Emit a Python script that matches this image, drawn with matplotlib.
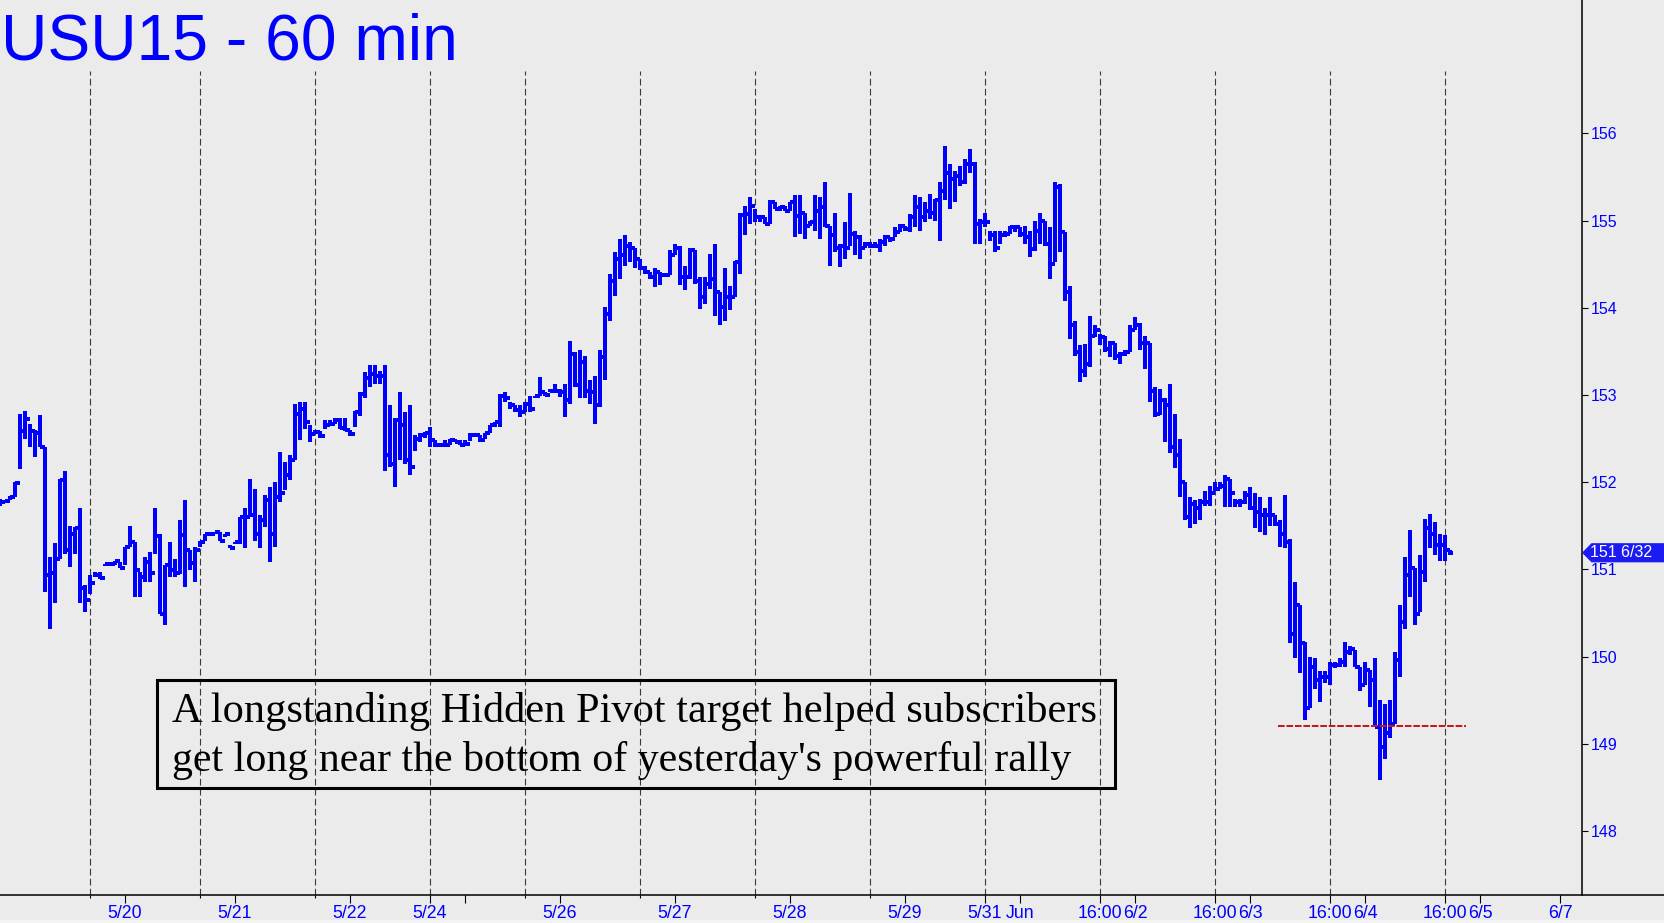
import matplotlib
matplotlib.use("Agg")
import matplotlib.pyplot as plt
from matplotlib import font_manager
from matplotlib.collections import LineCollection
from matplotlib.patches import Rectangle, Polygon
from matplotlib.lines import Line2D

W, H, DPI = 1664, 923, 100

# 60 min bars (one entry per bar)
highs = [151.81, 151.79, 151.84, 152.00, 152.78, 152.82, 152.67, 152.60, 152.77, 152.40,
         151.14, 151.30, 152.04, 152.13, 151.50, 151.48, 151.70, 150.82, 150.93, 150.97,
         150.97, 151.06, 151.06, 151.09, 151.08, 151.26, 151.50, 151.31, 150.97, 151.14,
         151.20, 151.70, 151.41, 151.05, 151.31, 151.12, 151.57, 151.79, 151.22, 151.26,
         151.33, 151.40, 151.40, 151.43, 151.43, 151.40, 151.28, 151.31, 151.60, 151.70,
         152.04, 151.92, 151.62, 151.85, 151.94, 152.00, 152.35, 152.23, 152.31, 152.90,
         152.92, 152.92, 152.65, 152.60, 152.59, 152.71, 152.71, 152.73, 152.73, 152.73,
         152.60, 152.82, 153.03, 153.26, 153.34, 153.34, 153.28, 153.34, 152.88, 152.73,
         153.03, 152.80, 152.88, 152.54, 152.56, 152.57, 152.63, 152.48, 152.45, 152.48,
         152.50, 152.50, 152.48, 152.48, 152.56, 152.56, 152.54, 152.56, 152.65, 152.69,
         153.01, 153.03, 152.92, 152.88, 152.88, 152.92, 152.99, 152.99, 153.20, 153.03,
         153.07, 153.12, 153.07, 153.13, 153.62, 153.49, 153.51, 153.45, 153.17, 153.22,
         153.51, 154.01, 154.39, 154.64, 154.79, 154.83, 154.75, 154.69, 154.56, 154.48,
         154.41, 154.46, 154.41, 154.40, 154.66, 154.73, 154.71, 154.48, 154.69, 154.66,
         154.35, 154.35, 154.62, 154.73, 154.18, 154.45, 154.25, 154.54, 155.09, 155.17,
         155.27, 155.13, 155.06, 155.04, 155.23, 155.21, 155.17, 155.17, 155.21, 155.29,
         155.29, 155.09, 155.00, 155.29, 155.27, 155.44, 154.94, 155.09, 154.73, 154.98,
         155.32, 154.88, 154.83, 154.75, 154.75, 154.75, 154.79, 154.83, 154.81, 154.92,
         154.96, 154.94, 155.08, 155.29, 155.27, 155.21, 155.30, 155.25, 155.44, 155.86,
         155.65, 155.57, 155.63, 155.71, 155.82, 155.67, 155.02, 155.09, 154.88, 154.88,
         154.88, 154.88, 154.94, 154.94, 154.92, 154.94, 154.88, 155.00, 155.09, 155.00,
         154.92, 155.44, 155.42, 154.87, 154.25, 153.85, 153.57, 153.58, 153.91, 153.80,
         153.70, 153.68, 153.62, 153.59, 153.49, 153.52, 153.80, 153.89, 153.83, 153.68,
         153.59, 153.09, 153.07, 152.97, 153.13, 152.78, 152.50, 152.00, 151.83, 151.79,
         151.81, 151.90, 151.96, 152.00, 152.00, 152.08, 152.04, 151.81, 151.81, 151.90,
         151.94, 151.88, 151.83, 151.70, 151.83, 151.62, 151.56, 151.85, 151.35, 150.86,
         150.59, 150.17, 150.00, 149.98, 149.83, 149.83, 149.94, 149.94, 149.98, 150.17,
         150.12, 150.07, 149.88, 149.94, 149.84, 149.98, 149.50, 149.46, 149.50, 150.05,
         150.59, 151.14, 151.45, 151.01, 151.16, 151.58, 151.64, 151.54, 151.41, 151.39,
         151.22]
lows = [151.73, 151.77, 151.79, 151.83, 152.15, 152.50, 152.40, 152.29, 152.40, 150.74,
        150.32, 150.61, 151.12, 151.18, 151.03, 151.18, 150.61, 150.51, 150.72, 150.91,
        150.89, 151.04, 151.04, 151.05, 151.02, 151.05, 151.26, 150.68, 150.68, 150.86,
        150.86, 151.18, 150.49, 150.36, 150.91, 150.91, 150.95, 150.80, 150.99, 150.86,
        151.26, 151.33, 151.39, 151.40, 151.33, 151.37, 151.25, 151.29, 151.29, 151.24,
        151.62, 151.33, 151.24, 151.49, 151.08, 151.26, 151.77, 151.91, 152.02, 152.25,
        152.48, 152.61, 152.46, 152.56, 152.51, 152.61, 152.64, 152.67, 152.61, 152.59,
        152.53, 152.63, 152.76, 152.96, 153.09, 153.13, 153.13, 152.13, 152.17, 151.94,
        152.25, 152.21, 152.08, 152.36, 152.46, 152.51, 152.40, 152.40, 152.40, 152.42,
        152.42, 152.46, 152.42, 152.42, 152.47, 152.52, 152.46, 152.50, 152.56, 152.63,
        152.63, 152.92, 152.84, 152.80, 152.75, 152.80, 152.80, 152.97, 152.99, 152.99,
        153.03, 153.03, 152.98, 152.75, 152.90, 153.09, 152.96, 152.96, 152.90, 152.67,
        152.86, 153.17, 153.85, 154.14, 154.33, 154.48, 154.52, 154.46, 154.43, 154.39,
        154.33, 154.24, 154.26, 154.37, 154.37, 154.60, 154.26, 154.20, 154.33, 154.27,
        153.99, 154.04, 154.22, 153.91, 153.80, 153.85, 153.97, 154.12, 154.39, 154.83,
        154.96, 154.98, 154.98, 154.96, 154.96, 155.13, 155.11, 155.11, 155.11, 154.81,
        154.85, 154.79, 154.94, 154.88, 154.79, 154.92, 154.48, 154.64, 154.47, 154.56,
        154.71, 154.60, 154.56, 154.69, 154.68, 154.68, 154.64, 154.71, 154.75, 154.81,
        154.87, 154.88, 154.87, 154.92, 154.88, 154.98, 155.02, 155.00, 154.77, 155.23,
        155.13, 155.21, 155.40, 155.42, 155.55, 154.73, 154.73, 154.92, 154.77, 154.64,
        154.73, 154.81, 154.85, 154.87, 154.81, 154.73, 154.58, 154.65, 154.73, 154.71,
        154.33, 154.52, 154.64, 154.08, 153.64, 153.45, 153.15, 153.20, 153.32, 153.66,
        153.57, 153.49, 153.43, 153.40, 153.36, 153.45, 153.49, 153.74, 153.51, 153.30,
        152.92, 152.75, 152.77, 152.46, 152.33, 152.16, 151.83, 151.56, 151.47, 151.52,
        151.56, 151.73, 151.73, 151.90, 151.92, 151.71, 151.71, 151.71, 151.71, 151.75,
        151.68, 151.47, 151.43, 151.39, 151.50, 151.50, 151.26, 151.24, 150.15, 149.98,
        149.81, 149.27, 149.41, 149.63, 149.48, 149.70, 149.67, 149.87, 149.88, 149.88,
        150.02, 149.88, 149.61, 149.67, 149.42, 149.19, 148.58, 148.83, 149.06, 149.23,
        149.77, 150.32, 150.68, 150.36, 150.51, 150.86, 151.24, 151.16, 151.10, 151.10,
        151.16]
closes = [151.77, 151.78, 151.83, 151.99, 152.59, 152.72, 152.59, 152.56, 152.40, 150.93,
          150.96, 151.12, 152.03, 151.22, 151.40, 151.47, 150.78, 150.65, 150.84, 150.93,
          150.90, 151.06, 151.06, 151.09, 151.02, 151.26, 151.31, 150.99, 150.91, 151.08,
          150.96, 151.38, 150.49, 151.05, 150.99, 150.96, 151.39, 151.22, 151.07, 151.22,
          151.31, 151.40, 151.40, 151.43, 151.33, 151.40, 151.25, 151.31, 151.60, 151.60,
          151.62, 151.41, 151.56, 151.79, 151.41, 151.83, 151.87, 152.08, 152.25, 152.78,
          152.84, 152.69, 152.55, 152.58, 152.53, 152.65, 152.67, 152.71, 152.62, 152.60,
          152.55, 152.80, 153.01, 153.19, 153.24, 153.22, 153.22, 152.31, 152.21, 152.71,
          152.65, 152.25, 152.17, 152.50, 152.54, 152.56, 152.48, 152.42, 152.42, 152.43,
          152.48, 152.46, 152.43, 152.44, 152.54, 152.54, 152.48, 152.56, 152.65, 152.69,
          152.99, 152.97, 152.88, 152.83, 152.80, 152.90, 152.84, 152.99, 153.03, 153.00,
          153.05, 153.05, 153.03, 152.94, 153.47, 153.11, 153.38, 153.05, 153.03, 152.88,
          153.43, 153.93, 154.31, 154.56, 154.60, 154.71, 154.69, 154.56, 154.45, 154.41,
          154.35, 154.41, 154.37, 154.38, 154.60, 154.69, 154.35, 154.35, 154.66, 154.31,
          154.12, 154.27, 154.33, 154.18, 154.01, 154.12, 154.12, 154.53, 155.06, 155.08,
          155.17, 155.04, 155.04, 154.96, 155.21, 155.13, 155.15, 155.11, 155.21, 155.05,
          155.09, 154.94, 154.98, 155.11, 155.15, 154.94, 154.83, 154.69, 154.71, 154.69,
          154.85, 154.81, 154.69, 154.73, 154.71, 154.71, 154.75, 154.81, 154.79, 154.87,
          154.94, 154.90, 155.04, 155.15, 155.04, 155.11, 155.09, 155.23, 155.34, 155.55,
          155.48, 155.51, 155.44, 155.65, 155.65, 154.96, 154.98, 154.98, 154.83, 154.69,
          154.83, 154.85, 154.92, 154.92, 154.85, 154.81, 154.67, 154.88, 155.00, 154.73,
          154.50, 155.38, 154.87, 154.18, 153.80, 153.49, 153.28, 153.36, 153.68, 153.74,
          153.66, 153.53, 153.59, 153.45, 153.47, 153.49, 153.74, 153.80, 153.59, 153.59,
          153.05, 152.78, 152.94, 152.88, 152.40, 152.31, 152.00, 151.60, 151.75, 151.70,
          151.77, 151.77, 151.88, 151.92, 151.96, 152.04, 151.87, 151.77, 151.77, 151.85,
          151.70, 151.66, 151.62, 151.62, 151.62, 151.52, 151.41, 151.31, 150.26, 150.59,
          150.15, 149.41, 149.88, 149.73, 149.77, 149.77, 149.90, 149.90, 149.94, 150.05,
          150.09, 149.88, 149.67, 149.84, 149.73, 149.19, 148.96, 149.12, 149.23, 149.96,
          150.40, 150.93, 151.01, 150.49, 150.97, 151.47, 151.41, 151.28, 151.28, 151.22,
          151.19]

# session breaks and axis labels (bar index)
day_breaks = [18, 40, 63, 86, 105, 128, 151, 174, 197, 220, 243, 266, 289]
label_pos = [25, 47, 70, 86, 93, 112, 135, 158, 181, 197, 204, 220, 227,
             243, 250, 266, 273, 289, 296, 312]
label_txt = ['5/20', '5/21', '5/22', '5/24', '', '5/26', '5/27', '5/28', '5/29',
             '5/31', 'Jun', '16:00', '6/2', '16:00', '6/3', '16:00', '6/4',
             '16:00', '6/5', '6/7']
price_ticks = [148, 149, 150, 151, 152, 153, 154, 155, 156]
last_label = '151 6/32'

support_level = 149.2
support_span = (255.5, 293.2)
note_lines = ["A longstanding Hidden Pivot target helped subscribers",
              "get long near the bottom of yesterday's powerful rally"]

BG = '#ebebeb'
BLUE = '#0000ff'


def pick_font(names):
    for n in names:
        try:
            font_manager.findfont(font_manager.FontProperties(family=n), fallback_to_default=False)
            return n
        except Exception:
            pass
    return 'DejaVu Sans'


SANS = pick_font(['Liberation Sans', 'Arial'])
NARROW = pick_font(['Liberation Sans Narrow', 'Liberation Sans'])
SERIF = pick_font(['Liberation Serif', 'DejaVu Serif'])


def fx(px):
    return px / W


def fy(py):
    return 1 - py / H


fig = plt.figure(figsize=(W / DPI, H / DPI), dpi=DPI, facecolor=BG)
ax = fig.add_axes([0, fy(895), fx(1582), 895 / H])
ax.set_facecolor(BG)
ax.set_xlim(0, 316.4)
ax.set_ylim(147.265, 157.529)

# OHLC bars: open tick = previous close
segs = []
for i, (h, l, c) in enumerate(zip(highs, lows, closes)):
    segs.append([(i, l), (i, h)])
    segs.append([(i, c), (i + 0.6, c)])
    if i > 0:
        o = closes[i - 1]
        segs.append([(i - 0.6, o), (i, o)])
bars = LineCollection(segs, colors=BLUE, linewidths=1.45, antialiaseds=False,
                      capstyle='butt', zorder=3)
ax.add_collection(bars)

for b in day_breaks:
    ax.axvline(b, ymin=0, ymax=1 - 71 / 895, color='#3a3a3a', lw=0.8,
               dashes=(6, 3), zorder=1)

ax.plot(support_span, [support_level, support_level], color='#c41a1a', lw=1.45,
        dashes=(3.3, 0.9), zorder=4)

# axes styling
for s in ['left', 'top', 'bottom']:
    ax.spines[s].set_visible(False)
ax.spines['right'].set_color('black')
ax.spines['right'].set_linewidth(1.1)

ax.set_xticks(label_pos)
ax.set_xticklabels(label_txt)
ax.set_xticks([b for b in day_breaks if b not in label_pos], minor=True)
ax.tick_params(axis='x', which='major', direction='out', length=5.8, width=0.8,
               color='black', labelcolor=BLUE, labelsize=12.8, pad=1.5)
ax.tick_params(axis='x', which='minor', direction='out', length=2.4, width=0.8,
               color='black')
for t in ax.get_xticklabels():
    t.set_fontfamily(NARROW)

ax.yaxis.tick_right()
ax.set_yticks(price_ticks)
ax.set_yticklabels([str(p) for p in price_ticks])
ax.tick_params(axis='y', direction='out', length=4.2, width=0.8, color='black',
               labelcolor=BLUE, labelsize=11.5, pad=2)
for t in ax.get_yticklabels():
    t.set_fontfamily(SANS)

fig.add_artist(Line2D([0, 1], [fy(895), fy(895)], color='black', lw=1.1,
                      transform=fig.transFigure))
fig.add_artist(Rectangle((0, 0), 1, 3 / H, transform=fig.transFigure,
                         color='#f4f4f4', lw=0))

# last price marker
c = closes[-1]
hh = 0.11
tr = ax.get_yaxis_transform()
ax.add_patch(Polygon([(1.0, c), (1.006, c + hh), (1.06, c + hh), (1.06, c - hh),
                      (1.006, c - hh)], closed=True, transform=tr, clip_on=False,
                     facecolor='#1c1cf2', edgecolor='none', zorder=6))
ax.text(1.0048, c, last_label, transform=tr, color='white', fontsize=11.5,
        family=SANS, va='center', ha='left', clip_on=False, zorder=7)

# title
fig.text(fx(1), fy(59), 'USU15 - 60 min', color=BLUE, fontsize=46.2, family=SANS,
         va='baseline', ha='left')

# annotation box
fig.add_artist(Rectangle((fx(157), fy(788)), fx(1115) - fx(157), fy(680) - fy(788),
                         transform=fig.transFigure, fill=False, edgecolor='black',
                         lw=2.2))
fig.text(fx(172), fy(722), note_lines[0], color='black', fontsize=30.5, family=SERIF,
         va='baseline', ha='left')
fig.text(fx(172), fy(771), note_lines[1], color='black', fontsize=30.2, family=SERIF,
         va='baseline', ha='left')

fig.savefig('out.png', dpi=DPI, facecolor=BG)
